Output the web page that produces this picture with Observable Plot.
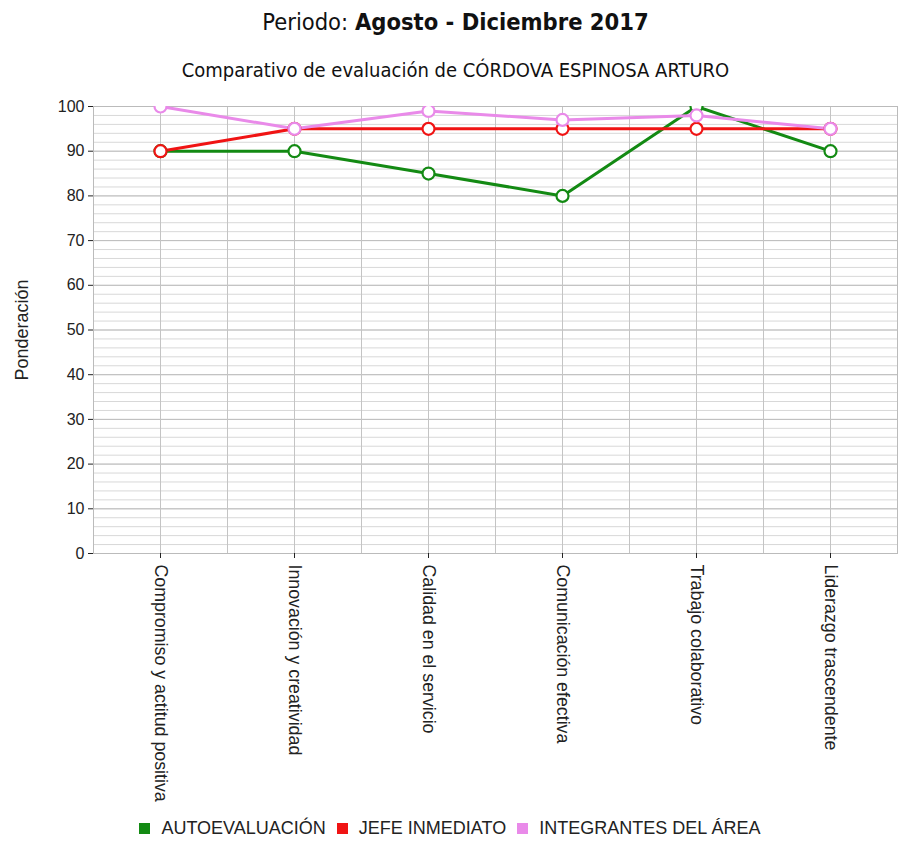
<!DOCTYPE html>
<html>
<head>
<meta charset="utf-8">
<script src="https://cdn.jsdelivr.net/npm/d3@7"></script>
<script src="https://cdn.jsdelivr.net/npm/@observablehq/plot@0.6"></script>
<style>
  body { margin: 0; background: #fff; width: 903px; }
  #title { height: 44px; line-height: 44px; text-align: center; font-family: "DejaVu Sans Condensed", "DejaVu Sans", sans-serif; font-size: 23.5px; color: #111; padding-left: 8px; }
  #subtitle { height: 52px; line-height: 52px; text-align: center; font-family: "DejaVu Sans Condensed", "DejaVu Sans", sans-serif; font-size: 20px; color: #111; padding-left: 8px; }
  #legend { height: 34px; display: flex; justify-content: center; align-items: center; font-family: "Liberation Sans", Arial, sans-serif; font-size: 18px; color: #222; padding-left: 8px; }
  #legend .item { display: flex; align-items: center; margin-right: 11px; }
  #legend .sw { width: 11px; height: 11px; margin-right: 11px; }
  g[aria-label="y-axis label"] text { font-size: 18px !important; }
</style>
</head>
<body>
<div id="title">Periodo: <b>Agosto - Diciembre 2017</b></div>
<div id="subtitle">Comparativo de evaluación de CÓRDOVA ESPINOSA ARTURO</div>
<div id="chart"></div>
<div id="legend"></div>
<script>
const categories = ["Compromiso y actitud positiva", "Innovación y creatividad", "Calidad en el servicio", "Comunicación efectiva", "Trabajo colaborativo", "Liderazgo trascendente"];
const seriesNames = ["AUTOEVALUACIÓN", "JEFE INMEDIATO", "INTEGRANTES DEL ÁREA"];
const seriesColors = ["#138a13", "#f01414", "#e98ae9"];
const autoevaluacion = [90, 90, 85, 80, 100, 90];
const jefeInmediato = [90, 95, 95, 95, 95, 95];
const integrantesArea = [100, 95, 99, 97, 98, 95];
const yTicks = [0, 10, 20, 30, 40, 50, 60, 70, 80, 90, 100];
const yMinorTicks = d3.range(0, 101, 2);

const seriesValues = [autoevaluacion, jefeInmediato, integrantesArea];
const data = [];
seriesNames.forEach((s, k) => categories.forEach((c, i) => data.push({i, category: c, series: s, value: seriesValues[k][i]})));
const centers = categories.map((_, i) => i);
const bounds = d3.range(-0.5, categories.length, 1);

const chart = Plot.plot({
  width: 903,
  height: 715,
  marginTop: 10,
  marginLeft: 93,
  marginRight: 6,
  marginBottom: 258,
  style: {fontFamily: "'Liberation Sans', Arial, sans-serif", fontSize: "16px", color: "#222", background: "white"},
  x: {type: "linear", domain: [-0.5, categories.length - 0.5], label: null},
  y: {domain: [0, 100], label: null},
  color: {domain: seriesNames, range: seriesColors},
  marks: [
    Plot.ruleY(yMinorTicks, {stroke: "#d8d8d8", strokeWidth: 1}),
    Plot.ruleY(yTicks, {stroke: "#bdbdbd", strokeWidth: 1}),
    Plot.ruleX(bounds, {stroke: "#c4c4c4", strokeWidth: 1}),
    Plot.ruleX(centers, {stroke: "#c4c4c4", strokeWidth: 1}),
    Plot.frame({stroke: "#bbbbbb"}),
    Plot.axisX(centers, {tickFormat: i => categories[i], tickRotate: 90, tickSize: 5, tickPadding: 6, fontSize: 17.8, label: null}),
    Plot.axisY(yTicks, {tickSize: 5, tickPadding: 4, fontSize: 16, label: "Ponderación", labelAnchor: "center", labelOffset: 78, labelArrow: false}),
    Plot.line(data, {x: "i", y: "value", z: "series", stroke: "series", strokeWidth: 3, clip: true}),
    Plot.dot(data, {x: "i", y: "value", stroke: "series", fill: "white", r: 6, strokeWidth: 2.2, clip: true})
  ]
});
document.getElementById("chart").appendChild(chart);

const legend = document.getElementById("legend");
seriesNames.forEach((s, k) => {
  const item = document.createElement("div");
  item.className = "item";
  const sw = document.createElement("span");
  sw.className = "sw";
  sw.style.background = seriesColors[k];
  const t = document.createElement("span");
  t.textContent = s;
  item.appendChild(sw);
  item.appendChild(t);
  legend.appendChild(item);
});
</script>
</body>
</html>
